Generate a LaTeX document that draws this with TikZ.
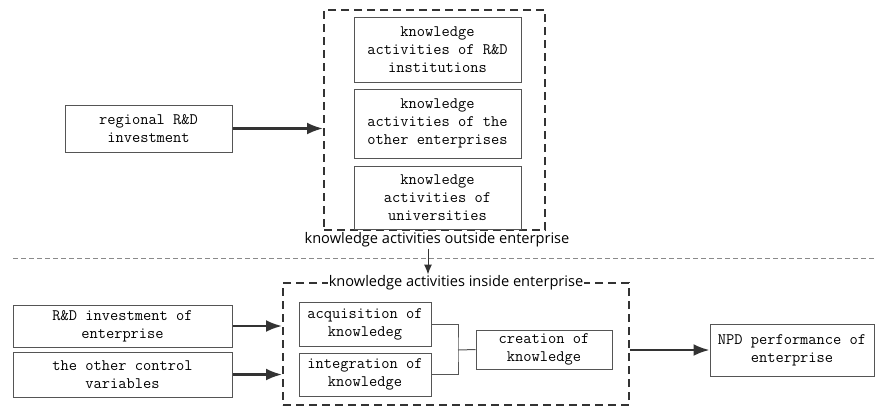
\documentclass[tikz,border=0pt]{standalone}
\usepackage{fontspec}
\usepackage{tikz}
\usetikzlibrary{arrows.meta}
\newfontfamily\tagfont{Open Sans}
\newcommand\boxfont{\ttfamily\fontsize{16}{18}\selectfont}
\definecolor{boxgray}{HTML}{555555}
\definecolor{inkdark}{HTML}{333333}
\definecolor{sepgray}{HTML}{8A8A8A}

\begin{document}
\begin{tikzpicture}[x=1pt,y=-1pt]
		\tikzset{box/.style={draw=boxgray,line width=1pt,inner sep=0pt,align=center,font=\boxfont,text=black}};
		\tikzset{group/.style={draw=inkdark,line width=2pt,dash pattern=on 8pt off 5pt,inner sep=0pt}};
		\tikzset{grouptag/.style={font=\tagfont\fontsize{14.6}{16}\selectfont,inner sep=1pt,text=black}};
		\tikzset{bigarrow/.style={draw=inkdark,line width=2.4pt,-{Latex[length=16pt,width=12pt]}}};
		\useasboundingbox (0,0) rectangle (876,408);
		\node[group,minimum width=221pt,minimum height=220pt] (outside) at (434.5,120) {};
		\node[box,minimum width=167pt,minimum height=65pt] (inst) at (437.5,49.5) {knowledge\\activities of R\&D\\institutions};
		\node[box,minimum width=167pt,minimum height=69pt] (other) at (437.5,123.5) {knowledge\\activities of the\\other enterprises};
		\node[box,minimum width=167pt,minimum height=63pt] (univ) at (437.5,197.5) {knowledge\\activities of\\universities};
		\node[box,minimum width=167pt,minimum height=47pt] (region) at (148.5,128.5) {regional R\&D\\investment};
		\node[grouptag] (outtag) at (437,240) {knowledge activities outside enterprise};
		\coordinate (sepl) at (13,258);
		\coordinate (sepr) at (876,258);
		\draw[sepgray,line width=0.9pt,dash pattern=on 5pt off 3pt] (sepl) -- (sepr);
		\node[group,minimum width=346pt,minimum height=122pt] (inside) at (456,344) {};
		\node[grouptag,fill=white] (intag) at (456,283) {knowledge activities inside enterprise};
		\node[box,minimum width=219pt,minimum height=42pt] (rdent) at (122.5,326) {R\&D investment of\\enterprise};
		\node[box,minimum width=219pt,minimum height=45pt] (ctrl) at (122.5,374.5) {the other control\\variables};
		\node[box,minimum width=132pt,minimum height=44pt] (acq) at (365,324) {acquisition of\\knowledeg};
		\node[box,minimum width=132pt,minimum height=43pt] (integ) at (365,374.5) {integration of\\knowledge};
		\node[box,minimum width=136pt,minimum height=39pt] (creat) at (544,349.5) {creation of\\knowledge};
		\node[box,minimum width=164pt,minimum height=52pt] (npd) at (792,350) {NPD performance of\\enterprise};
		\coordinate (join) at (458,350);
		\draw[boxgray,line width=1pt] (acq.east) -| (join) |- (integ.east);
		\draw[boxgray,line width=1pt] (join) -- (creat.west);
		\draw[bigarrow] (region.east) -- (region.east -| outside.west);
		\draw[bigarrow] (rdent.east) -- (rdent.east -| inside.west);
		\draw[bigarrow] (ctrl.east) -- (ctrl.east -| inside.west);
		\draw[bigarrow] (npd.west -| inside.east) -- (npd.west);
		\draw[inkdark,line width=1pt,-{Latex[length=10pt,width=8pt]}] (outtag.south -| 428,0) -- (intag.north -| 428,0);
	\end{tikzpicture}
\end{document}
